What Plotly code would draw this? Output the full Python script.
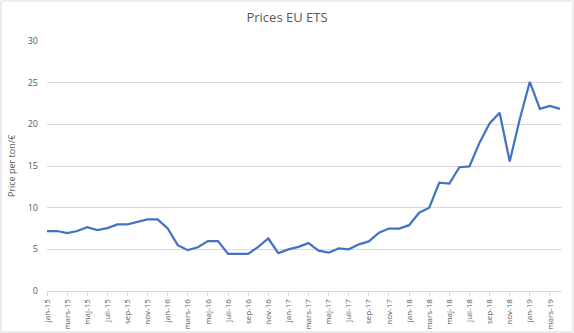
import plotly.graph_objects as go

months = ["jan", "feb", "mars", "apr", "maj", "juni", "juli", "aug", "sep", "okt", "nov", "dec"]
years = ["15", "16", "17", "18", "19"]
categories = [f"{m}-{y}" for y in years for m in months][:52]

prices = [7.2, 7.2, 6.95, 7.2, 7.65, 7.3, 7.55, 8.0, 8.0, 8.3, 8.6, 8.6,
          7.5, 5.5, 4.9, 5.25, 6.0, 6.0, 4.45, 4.45, 4.45, 5.3, 6.3, 4.55,
          5.0, 5.3, 5.75, 4.85, 4.6, 5.1, 5.0, 5.6, 5.95, 7.0, 7.5, 7.5,
          7.9, 9.4, 10.0, 13.0, 12.9, 14.85, 14.95, 17.8, 20.1, 21.4, 15.55, 20.6,
          25.1, 21.85, 22.2, 21.85]

y_ticks = [0, 5, 10, 15, 20, 25, 30]

W, H = 574, 333
ml, mr, mt, mb = 47, 12, 41, 42
pw, ph = W - ml - mr, H - mt - mb

xs = list(range(len(prices)))
tickvals = xs[::2]
ticktext = categories[::2]

fig = go.Figure()
fig.add_trace(go.Scatter(x=xs, y=prices, mode="lines",
                         line=dict(color="#4472C4", width=2.25)))

fig.update_layout(
    width=W, height=H,
    margin=dict(l=ml, r=mr, t=mt, b=mb),
    paper_bgcolor="white", plot_bgcolor="white",
    showlegend=False,
    font=dict(family="Open Sans, Liberation Sans, sans-serif", color="#595959"),
    title=dict(text="Prices EU ETS", x=0.5, xanchor="center", y=1 - 17 / H, yanchor="middle",
               font=dict(size=13, color="#595959")),
    xaxis=dict(range=[0, 51.2], tickvals=tickvals, ticktext=ticktext, tickangle=-90,
               tickfont=dict(size=8, color="#595959"), showgrid=False, zeroline=False,
               showline=True, linecolor="#D9D9D9", linewidth=1, automargin=False,
               ticks="outside", ticklen=4, tickcolor="#D9D9D9"),
    yaxis=dict(range=[0, 30], tickvals=y_ticks, tickfont=dict(size=9, color="#595959"),
               showgrid=True, gridcolor="#D9D9D9", gridwidth=1, zeroline=False,
               showline=False, ticks="", ticklabelstandoff=8, automargin=False,
               title=dict(text="Price per ton/€", font=dict(size=9, color="#595959"), standoff=10)),
    shapes=[dict(type="rect", xref="paper", yref="paper",
                 x0=-(ml - 1) / pw, x1=1 + (mr - 1) / pw,
                 y0=-(mb - 1) / ph, y1=1 + (mt - 1) / ph,
                 line=dict(color="#D9D9D9", width=1), fillcolor="rgba(0,0,0,0)")],
)

fig.write_html("out.html")
